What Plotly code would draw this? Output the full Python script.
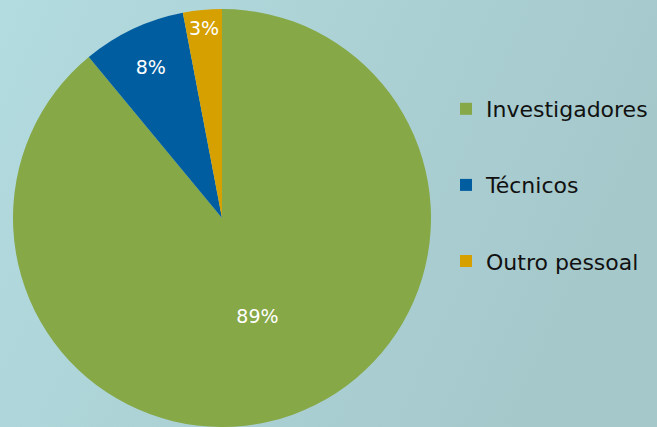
import plotly.graph_objects as go

categories = ["Investigadores", "Técnicos", "Outro pessoal"]
values = [89, 8, 3]
colors = ["#86A846", "#005DA0", "#D6A000"]

bg_svg = (
    "data:image/svg+xml;utf8,"
    "<svg xmlns='http://www.w3.org/2000/svg' width='100' height='100' preserveAspectRatio='none'>"
    "<defs><linearGradient id='g' x1='0' y1='0' x2='1' y2='0.3'>"
    "<stop offset='0' stop-color='%23B3DCE0'/><stop offset='1' stop-color='%23A5C8CB'/>"
    "</linearGradient></defs><rect width='100' height='100' fill='url(%23g)'/></svg>"
)

fig = go.Figure()
fig.add_trace(go.Pie(
    labels=categories, values=values,
    marker=dict(colors=colors, line=dict(width=0)),
    sort=False, direction="clockwise", rotation=0,
    textinfo="percent", textposition="inside", insidetextorientation="horizontal",
    textfont=dict(color="white", size=19, family="DejaVu Sans"),
    domain=dict(x=[13/657, 431/657], y=[0, 0.979]),
    showlegend=False,
))
for name, col in zip(categories, colors):
    fig.add_trace(go.Scatter(
        x=[None], y=[None], mode="markers", name=name, legendgroup=name,
        marker=dict(symbol="square", size=12, color=col),
    ))

fig.update_layout(
    width=657, height=427,
    margin=dict(l=0, r=0, t=0, b=0),
    paper_bgcolor="#ACD2D5", plot_bgcolor="rgba(0,0,0,0)",
    xaxis=dict(visible=False), yaxis=dict(visible=False),
    uniformtext=dict(minsize=19, mode="show"),
    legend=dict(x=446/657, y=1 - 88/427, xanchor="left", yanchor="top",
                font=dict(family="DejaVu Sans", size=22, color="#111111"),
                tracegroupgap=44.5, bgcolor="rgba(0,0,0,0)", itemsizing="constant"),
    images=[dict(source=bg_svg, xref="paper", yref="paper", x=0, y=1,
                 sizex=1, sizey=1, sizing="stretch", layer="below")],
)
fig.write_html("out.html", config={"displayModeBar": False},
               post_script="document.body.style.margin='0';document.body.style.padding='0';")
